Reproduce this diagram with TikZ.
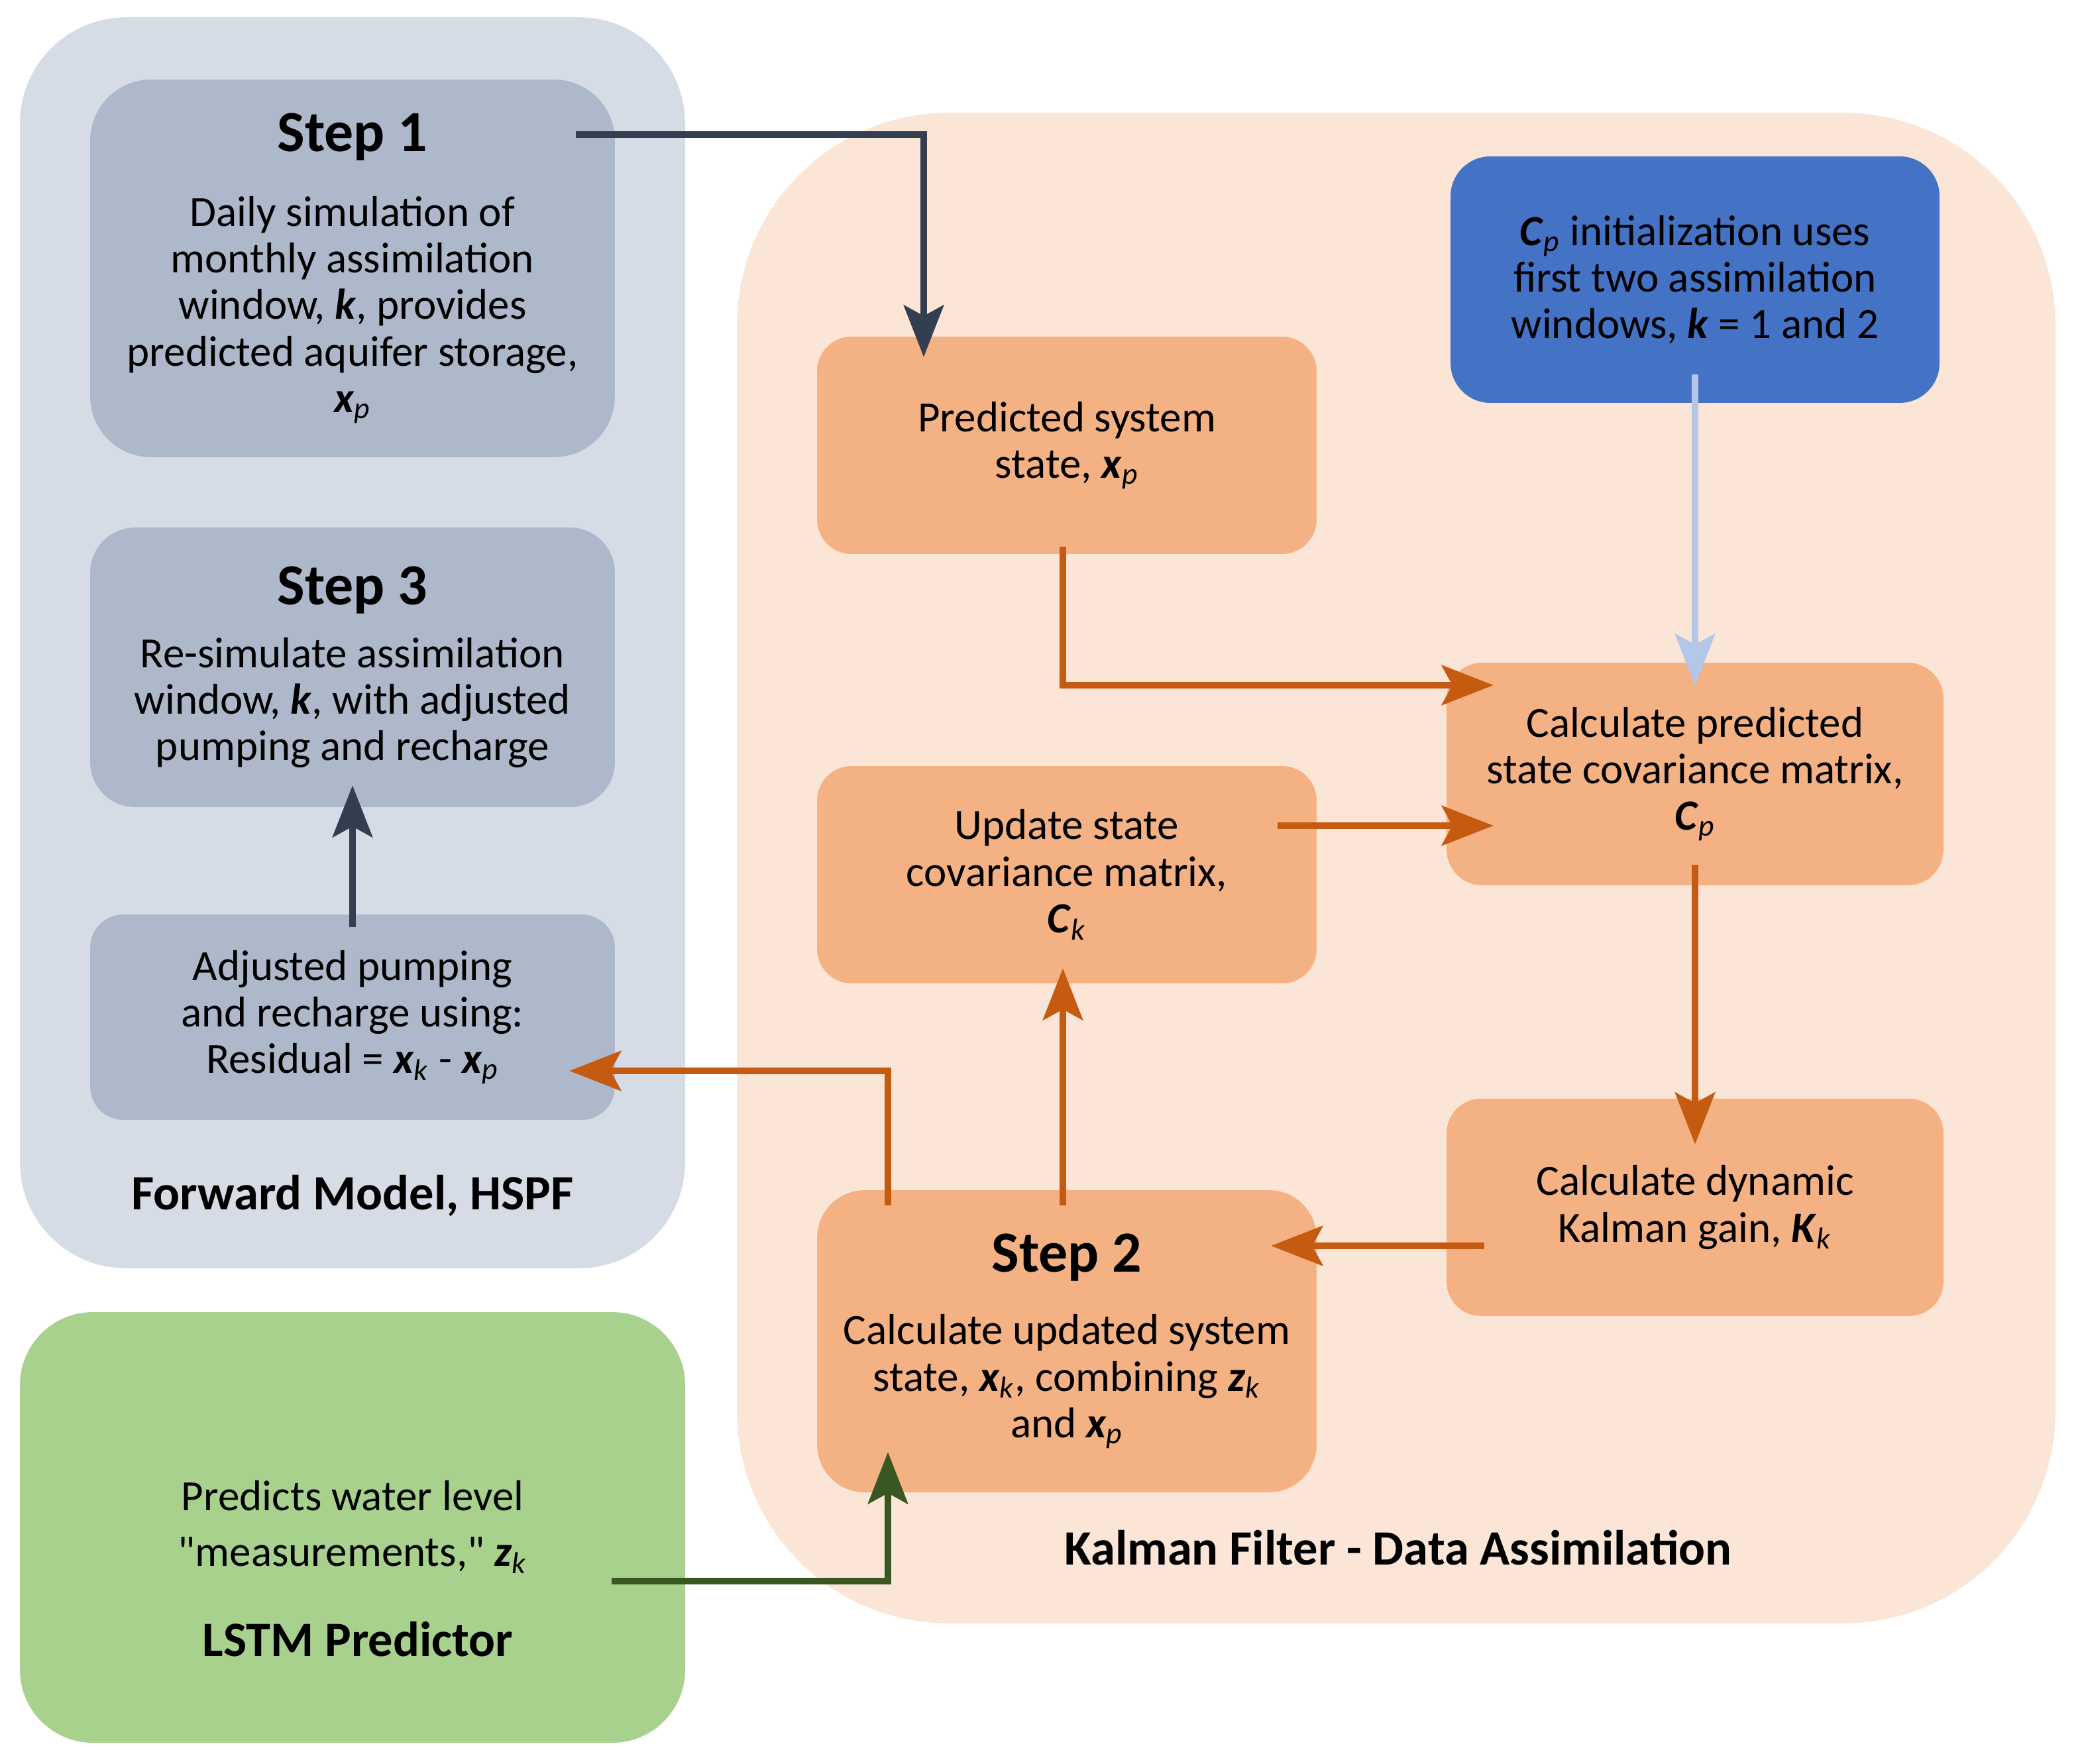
\documentclass[tikz,border=0pt]{standalone}
\usepackage{fontspec}
\setmainfont{Carlito}
\usepackage{tikz}
\usetikzlibrary{calc, positioning, arrows.meta}

\definecolor{fwdpanel}{HTML}{D6DCE5}
\definecolor{fwdbox}{HTML}{ADB9CA}
\definecolor{lstmpanel}{HTML}{A9D18E}
\definecolor{kfpanel}{HTML}{FBE5D6}
\definecolor{kfbox}{HTML}{F4B183}
\definecolor{initbox}{HTML}{4472C4}
\definecolor{darkline}{HTML}{333F50}
\definecolor{kfline}{HTML}{C55A11}
\definecolor{initline}{HTML}{B4C7E7}
\definecolor{lstmline}{HTML}{385723}

% bold italic variable, with optional italic subscript
\newcommand{\bv}[1]{\textbf{\textit{#1}}}
\newcommand{\bvs}[2]{\textbf{\textit{#1}}\textsubscript{\textit{#2}}}
\newcommand{\stepfont}{\fontsize{25}{28}\selectfont\bfseries}

\begin{document}
\begin{tikzpicture}[
    x=0.02cm, y=-0.02cm,
    >={Stealth[length=0.78cm, width=0.6cm, inset=0.16cm]},
    line width=3pt,
    font=\fontsize{18.5}{20}\selectfont
]

    % Styles: large group panels and the step boxes inside them
    \tikzset{
        panel/.style={rectangle, inner sep=0pt},
        stepbox/.style={rectangle, inner sep=0pt, align=center},
        paneltitle/.style={font=\fontsize{21.2}{24}\selectfont\bfseries}
    }

    \useasboundingbox (0,0) rectangle (1571,1331);

    % Group panels
    \node[panel, fill=fwdpanel, minimum width=10.04cm, minimum height=18.88cm,
          rounded corners=1.6cm] (FwdPanel) at (266,485) {};
    \node[panel, fill=lstmpanel, minimum width=10.04cm, minimum height=6.5cm,
          rounded corners=1.1cm] (LstmPanel) at (266,1152.5) {};
    \node[panel, fill=kfpanel, minimum width=19.9cm, minimum height=22.8cm,
          rounded corners=3.2cm] (KfPanel) at (1053.5,655) {};

    % Forward model (HSPF)
    \node[stepbox, fill=fwdbox, minimum width=7.92cm, minimum height=5.7cm,
          rounded corners=0.92cm] (Step1) at (266,202.5)
        {{\stepfont Step 1}\\[12pt]
         Daily simulation of\\ monthly assimilation\\
         window, \bv{k}, provides\\ predicted aquifer storage,\\ \bvs{x}{p}};
    \node[stepbox, fill=fwdbox, minimum width=7.92cm, minimum height=4.22cm,
          rounded corners=0.68cm] (Step3) at (266,503.5)
        {{\stepfont Step 3}\\[7pt]
         Re-simulate assimilation\\ window, \bv{k}, with adjusted\\
         pumping and recharge};
    \node[stepbox, fill=fwdbox, minimum width=7.92cm, minimum height=3.1cm,
          rounded corners=0.5cm] (Adj) at (266,767.5)
        {Adjusted pumping\\ and recharge using:\\
         Residual = \bvs{x}{k} - \bvs{x}{p}};
    \node[paneltitle] (FwdTitle) at (266,902) {Forward Model, HSPF};

    % LSTM predictor
    \node[align=center] (LstmText) at (266,1152)
        {Predicts water level\\[4pt] \textquotedbl measurements,\textquotedbl\ \bvs{z}{k}};
    \node[paneltitle] (LstmTitle) at (270,1237) {LSTM Predictor};

    % Kalman filter
    \node[stepbox, fill=kfbox, minimum width=7.54cm, minimum height=3.28cm,
          rounded corners=0.52cm] (Pred) at (805,336)
        {Predicted system\\ state, \bvs{x}{p}};
    \node[stepbox, fill=initbox, minimum width=7.38cm, minimum height=3.72cm,
          rounded corners=0.6cm] (Init) at (1279,211)
        {\bvs{C}{p} initialization uses\\ first two assimilation\\
         windows, \bv{k} = 1 and 2};
    \node[stepbox, fill=kfbox, minimum width=7.5cm, minimum height=3.36cm,
          rounded corners=0.54cm] (CovP) at (1279,584)
        {Calculate predicted\\ state covariance matrix,\\ \bvs{C}{p}};
    \node[stepbox, fill=kfbox, minimum width=7.54cm, minimum height=3.28cm,
          rounded corners=0.52cm] (CovK) at (805,660)
        {Update state\\ covariance matrix,\\ \bvs{C}{k}};
    \node[stepbox, fill=kfbox, minimum width=7.5cm, minimum height=3.28cm,
          rounded corners=0.52cm] (Gain) at (1279,911)
        {Calculate dynamic\\ Kalman gain, \bvs{K}{k}};
    \node[stepbox, fill=kfbox, minimum width=7.54cm, minimum height=4.56cm,
          rounded corners=0.72cm] (Step2) at (805,1012)
        {{\stepfont Step 2}\\[11pt]
         Calculate updated system\\ state, \bvs{x}{k}, combining \bvs{z}{k}\\
         and \bvs{x}{p}};
    \node[paneltitle] (KfTitle) at (1055,1168) {Kalman Filter - Data Assimilation};

    % Connectors
    \draw[->, darkline] ($(Step1.north east)+(-32,44)$) -| ($(Pred.north)+(-108,18)$);
    \draw[->, kfline] ($(Pred.south)+(-3,-8)$) |- ($(CovP.west)+(38,-67)$);
    \draw[->, initline] ($(Init.south)+(0,-24)$) -- ($(CovP.north)+(0,20)$);
    \draw[->, kfline] ($(CovK.east)+(-32,-37)$) -- ($(CovP.west)+(38,39)$);
    \draw[->, kfline] ($(CovP.south)+(0,-18)$) -- ($(Gain.north)+(0,37)$);
    \draw[->, kfline] ($(Gain.west)+(31,29)$) -- ($(Step2.east)+(-37,-72)$);
    \draw[->, kfline] ($(Step2.north)+(-3,14)$) -- ($(CovK.south)+(-3,-14)$);
    \draw[->, kfline] ($(Step2.north)+(-135,14)$) |- ($(Adj.east)+(-37,40.5)$);
    \draw[->, darkline] ($(Adj.north)+(0,12)$) -- ($(Step3.south)+(0,-19)$);
    \draw[->, lstmline] ($(LstmPanel.east)+(-58,40.5)$) -| ($(Step2.south)+(-135,-33)$);

\end{tikzpicture}
\end{document}
